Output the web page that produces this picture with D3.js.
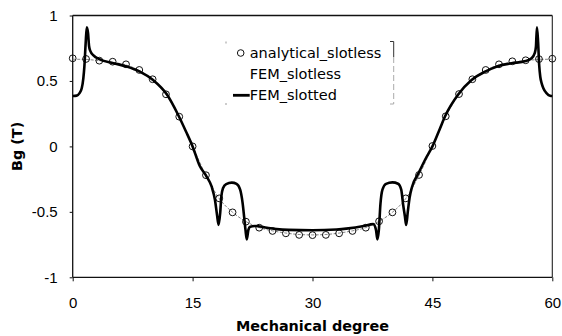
<!DOCTYPE html>
<html><head><meta charset="utf-8">
<script src="https://cdn.jsdelivr.net/npm/d3@7"></script>
<style>body{margin:0;background:#fff}svg{display:block}</style>
</head><body>
<svg id="c" width="562" height="336"></svg>
<script>
// ---- data ----
const xTicks = [0, 15, 30, 45, 60];
const xTickLabels = ["0", "15", "30", "45", "60"];
const yTicks = [-1, -0.5, 0, 0.5, 1];
const yTickLabels = ["-1", "-0.5", "0", "0.5", "1"];

const analyticalDeg = [0,1.67,3.33,5,6.67,8.33,10,11.67,13.33,15,16.67,18.33,20,21.67,23.33,25,26.67,28.33,30,
  31.67,33.33,35,36.67,38.33,40,41.67,43.33,45,46.67,48.33,50,51.67,53.33,55,56.67,58.33,60];
const analyticalB = [0.673,0.668,0.655,0.647,0.627,0.584,0.513,0.398,0.227,0.0,-0.220,-0.397,-0.504,-0.575,-0.621,-0.646,-0.664,-0.676,-0.678,
  -0.676,-0.664,-0.646,-0.621,-0.572,-0.504,-0.397,-0.218,0.003,0.230,0.400,0.513,0.584,0.627,0.650,0.658,0.667,0.670];

const slotlessDeg = [0,1.67,3.33,5,6.67,8.33,10,11.67,13.33,15,16.67,18.33,20,21.67,23.33,25,26.67,28.33,30,
  31.67,33.33,35,36.67,38.33,40,41.67,43.33,45,46.67,48.33,50,51.67,53.33,55,56.67,58.33,60];
const slotlessB = [0.666,0.664,0.655,0.642,0.622,0.580,0.508,0.396,0.226,0.0,-0.222,-0.398,-0.503,-0.574,-0.620,-0.645,-0.662,-0.673,-0.676,
  -0.673,-0.662,-0.645,-0.620,-0.572,-0.503,-0.398,-0.220,0.002,0.228,0.398,0.510,0.580,0.622,0.642,0.655,0.664,0.666];

const slottedDeg = [0,0.5,0.83,1.13,1.33,1.46,1.62,1.76,1.92,2.05,2.2,2.6,3.4,5.1,6.75,8.4,10.1,11.75,13.2,14.2,15,
  15.9,16.75,17.4,17.8,18.05,18.25,18.45,18.6,18.8,19.2,19.9,20.5,20.95,21.25,21.45,21.62,21.78,21.97,22.2,22.8,24.3,25.5,27,30,
  33,34.5,36.4,37.6,37.95,38.12,38.3,38.5,38.75,39.2,40.0,40.7,41.1,41.35,41.55,41.72,41.92,42.15,42.45,43.3,44.1,45,
  45.9,46.6,48.25,49.9,51.6,53.25,54.9,56.67,57.4,57.8,57.95,58.08,58.22,58.36,58.5,58.68,58.88,59.3,59.73,60];
const slottedB = [0.385,0.388,0.405,0.444,0.52,0.609,0.787,0.91,0.865,0.765,0.73,0.695,0.665,0.636,0.61,0.571,0.505,0.40,0.24,0.11,0.0,
  -0.15,-0.23,-0.31,-0.41,-0.52,-0.60,-0.51,-0.38,-0.32,-0.288,-0.277,-0.287,-0.33,-0.43,-0.54,-0.64,-0.71,-0.64,-0.613,-0.608,-0.621,-0.632,-0.638,-0.64,
  -0.635,-0.626,-0.608,-0.594,-0.64,-0.71,-0.64,-0.44,-0.33,-0.286,-0.275,-0.285,-0.33,-0.45,-0.53,-0.60,-0.50,-0.39,-0.31,-0.2,-0.1,0.0,
  0.13,0.232,0.398,0.507,0.571,0.615,0.635,0.652,0.673,0.712,0.76,0.91,0.80,0.62,0.53,0.48,0.444,0.406,0.387,0.385];

// ---- drawing ----
const svg = d3.select("#c");
const x = d3.scaleLinear().domain([0, 60]).range([72.7, 552.3]);
const y = d3.scaleLinear().domain([-1, 1]).range([277.3, 15.5]);

const tickFont = "'Liberation Sans', Arial, sans-serif";
const legFont = "'DejaVu Sans', sans-serif";

// frame top & right
svg.append("line").attr("x1", x(0)).attr("x2", x(60)).attr("y1", y(1)).attr("y2", y(1))
  .attr("stroke", "#111").attr("stroke-width", 1.3);
svg.append("line").attr("x1", x(60)).attr("x2", x(60)).attr("y1", y(1)).attr("y2", y(-1))
  .attr("stroke", "#222").attr("stroke-width", 1.1);

// axes
const xAxis = d3.axisBottom(x).tickValues(xTicks).tickSize(4).tickPadding(16)
  .tickFormat((d, i) => xTickLabels[i]);
const gx = svg.append("g").attr("transform", `translate(0,${y(-1)})`).call(xAxis);
gx.select(".domain").attr("stroke", "#111").attr("stroke-width", 1.3).attr("d", `M${x(0)},0H${x(60)}`);
gx.selectAll(".tick line").attr("stroke", "#111");
gx.selectAll("text").attr("font-family", tickFont).attr("font-size", 15).attr("fill", "#000");

const yAxis = d3.axisLeft(y).tickValues(yTicks).tickSize(3).tickPadding(12)
  .tickFormat((d, i) => yTickLabels[i]);
const gy = svg.append("g").attr("transform", `translate(${x(0)},0)`).call(yAxis);
gy.select(".domain").attr("stroke", "#111").attr("stroke-width", 1.3).attr("d", `M0,${y(-1)}V${y(1)}`);
gy.selectAll(".tick line").attr("stroke", "#111");
gy.selectAll("text").attr("font-family", tickFont).attr("font-size", 15).attr("fill", "#000");

// axis titles
svg.append("text").attr("x", (x(0) + x(60)) / 2).attr("y", 331).attr("text-anchor", "middle")
  .attr("font-family", legFont).attr("font-weight", "bold").attr("font-size", 14.4).text("Mechanical degree");
svg.append("text").attr("transform", `translate(21.5,${y(0)}) rotate(-90)`).attr("text-anchor", "middle")
  .attr("font-family", legFont).attr("font-weight", "bold").attr("font-size", 14.4).text("Bg (T)");

// series
const line = d3.line().x(d => x(d[0])).y(d => y(d[1]));
const slotless = slotlessDeg.map((d, i) => [d, slotlessB[i]]);
svg.append("path").datum(slotless).attr("d", line.curve(d3.curveMonotoneX))
  .attr("fill", "none").attr("stroke", "#777").attr("stroke-width", 0.9).attr("stroke-dasharray", "3,1.5");

svg.append("g").selectAll("circle").data(analyticalDeg).join("circle")
  .attr("cx", d => x(d)).attr("cy", (d, i) => y(analyticalB[i])).attr("r", 3.4)
  .attr("fill", "none").attr("stroke", "#111").attr("stroke-width", 1);

const slotted = slottedDeg.map((d, i) => [d, slottedB[i]]);
svg.append("path").datum(slotted).attr("d", d3.line().x(d => x(d[0])).y(d => y(d[1])).curve(d3.curveMonotoneX))
  .attr("fill", "none").attr("stroke", "#000").attr("stroke-width", 2.6).attr("stroke-linejoin", "round");

// legend
const lg = svg.append("g");
lg.append("path").attr("d", "M390,41.5H393.7V57").attr("fill", "none").attr("stroke", "#333").attr("stroke-width", 1);
lg.append("path").attr("d", "M393.7,57V104H390").attr("fill", "none").attr("stroke", "#aaa").attr("stroke-width", 1)
  .attr("stroke-dasharray", "6,3");
lg.append("path").attr("d", "M226,41.5V43.5M226,103V105").attr("stroke", "#999").attr("stroke-width", 1);
lg.append("circle").attr("cx", 240.7).attr("cy", 53).attr("r", 3.3).attr("fill", "none").attr("stroke", "#111");
lg.append("line").attr("x1", 233).attr("x2", 249.7).attr("y1", 95.3).attr("y2", 95.3).attr("stroke", "#000").attr("stroke-width", 2.8);
const legendNames = ["analytical_slotless", "FEM_slotless", "FEM_slotted"];
lg.selectAll("text.l").data(legendNames).join("text").attr("class", "l")
  .attr("x", 249.7).attr("y", (d, i) => 57.5 + i * 21)
  .attr("font-family", legFont).attr("font-size", 14.5).attr("fill", "#000").text(d => d);
</script>
</body></html>
